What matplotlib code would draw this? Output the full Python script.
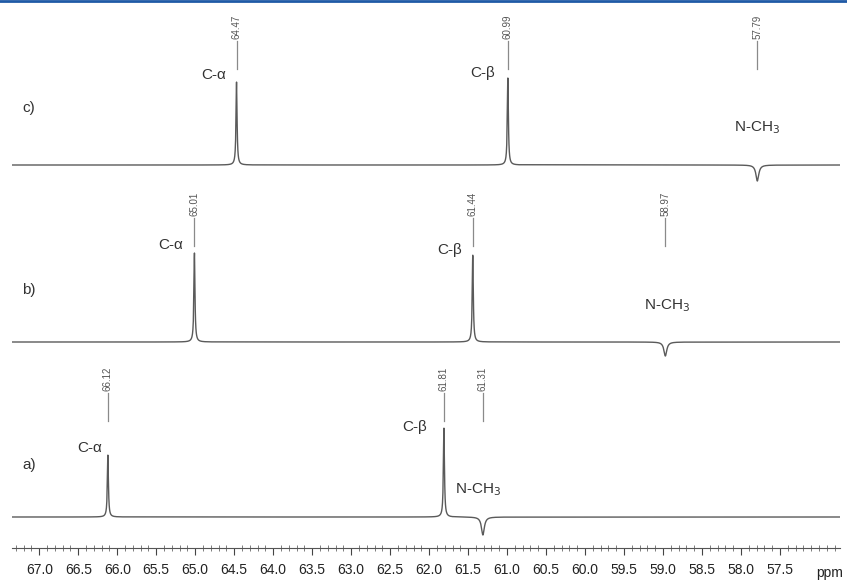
import numpy as np
import matplotlib
matplotlib.use('Agg')
import matplotlib.pyplot as plt
from matplotlib.lines import Line2D

plt.rcParams['font.family'] = ['Liberation Sans', 'DejaVu Sans']

# spectra, top to bottom: c), b), a)
names = ['c)', 'b)', 'a)']
baselines = [383, 206, 31]

# peak shifts (ppm) and heights for each spectrum: C-alpha, C-beta, N-CH3
shift_c = [64.47, 60.99, 57.79]
shift_b = [65.01, 61.44, 58.97]
shift_a = [66.12, 61.81, 61.31]
height_c = [83, 87, -16]
height_b = [89, 87, -14]
height_a = [62, 89, -18]

# printed peak markers
marks_c = ['64.47', '60.99', '57.79']
marks_b = ['65.01', '61.44', '58.97']
marks_a = ['66.12', '61.81', '61.31']

assign = ['C-α', 'C-β', 'N-CH$_3$']

# label anchors (ppm, y) for the assignment texts
lab_c = [(64.77, 473), (61.31, 475), (57.79, 420)]
lab_b = [(65.32, 303), (61.74, 298), (58.95, 242)]
lab_a = [(66.35, 100), (62.18, 121), (61.37, 58)]

shifts = [shift_c, shift_b, shift_a]
heights = [height_c, height_b, height_a]
marks = [marks_c, marks_b, marks_a]
labels = [lab_c, lab_b, lab_a]

x = np.linspace(56.7, 67.4, 12000)

def lorentz(x0, h, w):
    return h / (1 + ((x - x0) / w) ** 2)

fig = plt.figure(figsize=(8.47, 5.86), dpi=100)
ax = fig.add_axes([12 / 847, 38 / 586, (840 - 12) / 847, 548 / 586])

line_col = '#5a5a5a'
txt_col = '#333333'

for i in range(3):
    base = baselines[i]
    y = np.full_like(x, base, dtype=float)
    for s, h in zip(shifts[i], heights[i]):
        w = 0.008 if h > 0 else 0.022
        y += lorentz(s, h, w)
    ax.plot(x, y, color=line_col, lw=1.0)

    for s, m in zip(shifts[i], marks[i]):
        ax.plot([s, s], [base + 96, base + 124], color='#8a8a8a', lw=0.9)
        ax.text(s, base + 126, m, rotation=90, ha='center', va='bottom',
                fontsize=7, color='#555555')

    for (lx, ly), t in zip(labels[i], assign):
        ax.text(lx, ly, t, ha='center', va='center', fontsize=11, color=txt_col)

    ax.text(67.13, [440, 258, 83][i], names[i], ha='center', va='center',
            fontsize=11, color=txt_col)

ax.set_xlim(67.35, 56.73)
ax.set_ylim(0, 548)
ax.set_xticks(np.arange(67.0, 57.4, -0.5))
ax.set_xticks(np.arange(67.3, 56.7, -0.1), minor=True)
ax.xaxis.set_major_formatter(plt.FormatStrFormatter('%.1f'))
ax.tick_params(axis='x', which='major', direction='out', length=5, width=0.8,
               labelsize=10, pad=6, colors='#444444', labelcolor='#222222')
ax.tick_params(axis='x', which='minor', direction='inout', length=4, width=0.6,
               colors='#666666')
ax.set_yticks([])
for side in ['top', 'left', 'right']:
    ax.spines[side].set_visible(False)
ax.spines['bottom'].set_color('#555555')
ax.spines['bottom'].set_linewidth(0.8)
ax.patch.set_alpha(0)

ax.text(56.86, -25, 'ppm', ha='center', va='center', fontsize=10, color='#222222')

fig.add_artist(Line2D([0, 1], [1 - 1.2 / 586, 1 - 1.2 / 586], color='#1f5aa6',
                      lw=2, transform=fig.transFigure))

fig.savefig('out.png', dpi=100)
